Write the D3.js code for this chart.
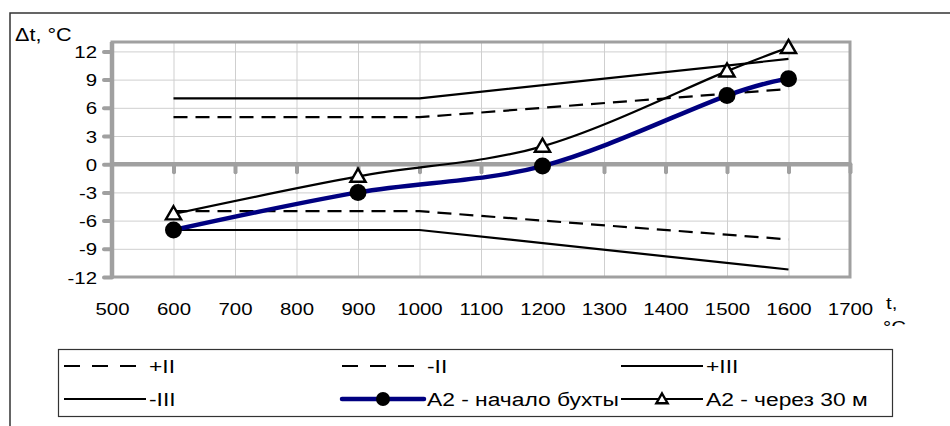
<!doctype html>
<html>
<head>
<style>
  body { margin: 0; background: #fff; }
  text { font-family: "Liberation Sans", Arial, sans-serif; fill: #000; }
</style>
<script src="https://d3js.org/d3.v7.min.js"></script>
</head>
<body>
<svg width="950" height="426"></svg>
<script>

// tolerance bands
var bandX = [600, 1000, 1600];
var plusII = [5, 5, 8];
var minusII = [-5, -5, -8];
var plusIII = [7, 7, 11.2];
var minusIII = [-7, -7, -11.2];

// measured series
var a2X = [600, 900, 1200, 1500, 1600];
var a2Start = [-7.0, -3.0, -0.2, 7.3, 9.1];
var a2After = [-5.3, -1.3, 1.9, 9.9, 12.4];

var xTicks = [500, 600, 700, 800, 900, 1000, 1100, 1200, 1300, 1400, 1500, 1600, 1700];
var yTicks = [-12, -9, -6, -3, 0, 3, 6, 9, 12];

var svg = d3.select("svg"),
    plotL = 112, plotT = 42, plotR = 850, plotB = 277,
    width = plotR - plotL, height = plotB - plotT,
    gray = "#a0a0a0", sx = 1.2;

// outer chart frame (extends past the window)
svg.append("rect")
   .attr("x", 10).attr("y", 13)
   .attr("width", 1000).attr("height", 500)
   .attr("fill", "none").attr("stroke", "#333").attr("stroke-width", 1.5);

var x = d3.scaleLinear().domain([500, 1700]).range([0, width]),
    y = d3.scaleLinear().domain([-12, 13]).range([height, 0]);

var g = svg.append("g").attr("transform", "translate(" + plotL + "," + plotT + ")");

// gridlines
g.append("g")
 .call(d3.axisLeft(y).tickValues(yTicks).tickSize(-width).tickFormat(""))
 .call(function(s) { s.select(".domain").remove(); })
 .selectAll("line").attr("stroke", "#cfcfcf").attr("stroke-width", 1);

g.append("g")
 .call(d3.axisBottom(x).tickValues(xTicks).tickSize(height).tickFormat(""))
 .call(function(s) { s.select(".domain").remove(); })
 .selectAll("line").attr("stroke", "#cfcfcf").attr("stroke-width", 1);

// plot border
g.append("rect")
 .attr("width", width).attr("height", height)
 .attr("fill", "none").attr("stroke", gray).attr("stroke-width", 3);

// y axis
var yAx = g.append("g")
 .call(d3.axisLeft(y).tickValues(yTicks).tickSize(8).tickPadding(0)
   .tickFormat(function(d) { return String(d); }));
yAx.select(".domain").remove();
yAx.append("line").attr("y1", 0).attr("y2", height)
   .attr("stroke", gray).attr("stroke-width", 4.5);
yAx.selectAll(".tick line").attr("stroke", gray).attr("stroke-width", 4).attr("stroke-linecap", "round");
yAx.selectAll(".tick text")
   .attr("x", -15 / sx).attr("dy", null).attr("y", 6)
   .attr("transform", "scale(" + sx + ",1)")
   .attr("font-size", "17px");

// zero line with ticks
var zAx = g.append("g")
 .attr("transform", "translate(0," + y(0) + ")")
 .call(d3.axisBottom(x).tickValues(xTicks.slice(1)).tickSize(8).tickFormat(""));
zAx.select(".domain").remove();
zAx.append("line").attr("x1", 0).attr("x2", width)
   .attr("stroke", gray).attr("stroke-width", 4.5);
zAx.selectAll(".tick line").attr("stroke", gray).attr("stroke-width", 4).attr("stroke-linecap", "round");

// x labels at the bottom
var xAx = g.append("g")
 .attr("transform", "translate(0," + height + ")")
 .call(d3.axisBottom(x).tickValues(xTicks).tickSize(0).tickFormat(function(d) { return String(d); }));
xAx.select(".domain").remove();
xAx.selectAll(".tick text")
   .attr("y", 38).attr("dy", null)
   .attr("transform", "scale(" + sx + ",1)")
   .attr("font-size", "17px");
g.selectAll("g").attr("font-family", null).attr("font-size", null);

function label(px, py, txt, size) {
  return svg.append("text")
    .attr("transform", "translate(" + px + "," + py + ") scale(" + sx + ",1)")
    .attr("font-size", size)
    .text(txt);
}

label(15, 41, "\u0394t, \u00b0C", "18px");

svg.append("clipPath").attr("id", "tclip")
   .append("rect").attr("x", 870).attr("y", 280).attr("width", 60).attr("height", 46);
var tLab = svg.append("g").attr("clip-path", "url(#tclip)");
tLab.append("text").attr("transform", "translate(886,309) scale(" + sx + ",1)").attr("font-size", "17px").text("t,");
tLab.append("text").attr("transform", "translate(883,333) scale(" + sx + ",1)").attr("font-size", "17px").text("\u00b0C");

// series
var straight = d3.line()
    .x(function(d) { return x(d[0]); })
    .y(function(d) { return y(d[1]); });
var smooth = d3.line()
    .x(function(d) { return x(d[0]); })
    .y(function(d) { return y(d[1]); })
    .curve(d3.curveCatmullRom.alpha(0));

function pairs(xs, ys) { return xs.map(function(v, i) { return [v, ys[i]]; }); }

var dash = "14,8";
var series = [
  { name: "+II", pts: pairs(bandX, plusII), dash: dash, color: "#000", w: 2.2, line: straight },
  { name: "-II", pts: pairs(bandX, minusII), dash: dash, color: "#000", w: 2.2, line: straight },
  { name: "+III", pts: pairs(bandX, plusIII), dash: null, color: "#000", w: 2.2, line: straight },
  { name: "-III", pts: pairs(bandX, minusIII), dash: null, color: "#000", w: 2.2, line: straight },
  { name: "A2 - начало бухты", pts: pairs(a2X, a2Start), dash: null, color: "#000080", w: 4.5, line: smooth, marker: "circle" },
  { name: "A2 - через 30 м", pts: pairs(a2X, a2After), dash: null, color: "#000", w: 2.2, line: smooth, marker: "triangle" }
];

function marker(sel, type, cx, cy, big) {
  if (type == "circle") {
    sel.append("circle").attr("cx", cx).attr("cy", cy).attr("r", big ? 8.5 : 7).attr("fill", "#000");
  } else {
    sel.append("path")
       .attr("d", d3.symbol().type(d3.symbolTriangle).size(big ? 100 : 55)())
       .attr("transform", "translate(" + cx + "," + (cy + 1) + ")")
       .attr("fill", "#fff").attr("stroke", "#000").attr("stroke-width", 2.4);
  }
}

series.forEach(function(s) {
  g.append("path")
   .attr("d", s.line(s.pts))
   .attr("fill", "none")
   .attr("stroke", s.color)
   .attr("stroke-width", s.w)
   .attr("stroke-dasharray", s.dash);
});
series.forEach(function(s) {
  if (!s.marker) return;
  s.pts.forEach(function(p) { marker(g, s.marker, x(p[0]), y(p[1]), true); });
});

// legend
svg.append("rect")
   .attr("x", 58.5).attr("y", 349.5).attr("width", 834).attr("height", 67)
   .attr("fill", "#fff").attr("stroke", "#333").attr("stroke-width", 1.2);

var colX = [64, 342, 621], rowY = [366, 399];
series.forEach(function(s, i) {
  var lx = colX[i % 3], ly = rowY[Math.floor(i / 3)];
  svg.append("line")
     .attr("x1", lx).attr("x2", lx + 82).attr("y1", ly).attr("y2", ly)
     .attr("stroke", s.color).attr("stroke-width", s.w)
     .attr("stroke-linecap", s.w > 3 ? "round" : "butt")
     .attr("stroke-dasharray", s.dash ? "16,12" : null);
  if (s.marker) marker(svg, s.marker, lx + 41, ly, false);
  label(lx + 85, ly + 7, s.name, "19px");
});

</script>
</body>
</html>
